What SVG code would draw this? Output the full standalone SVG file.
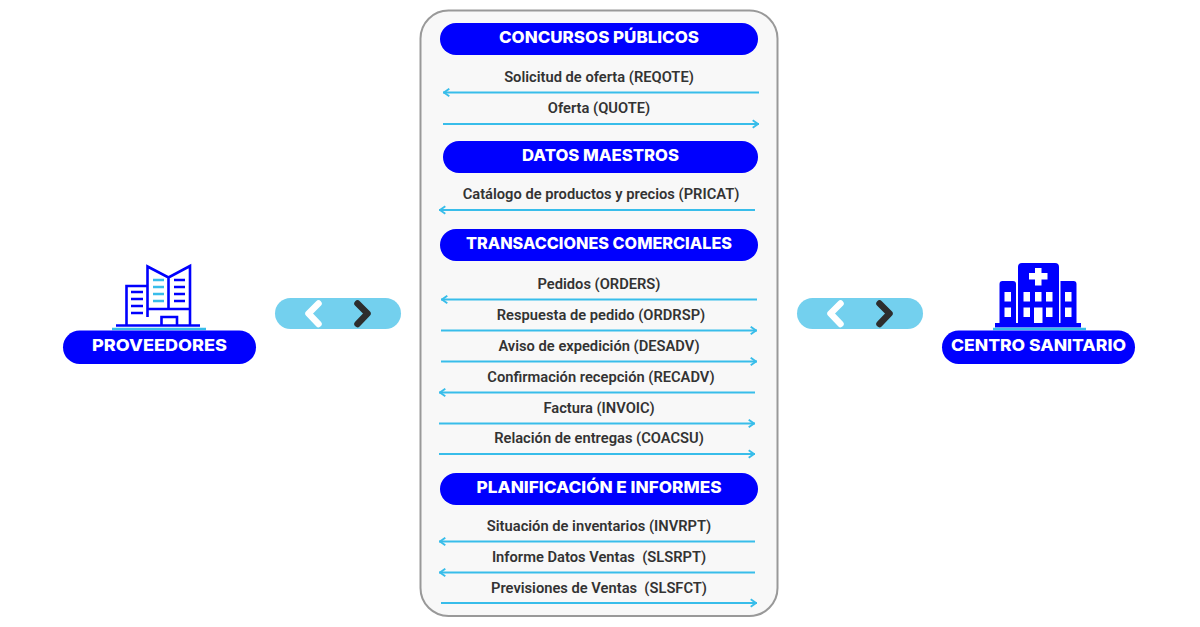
<svg xmlns="http://www.w3.org/2000/svg" width="1200" height="627" viewBox="0 0 1200 627">
<defs>
<marker id="ah" viewBox="0 0 8 10" refX="7.800" refY="5" markerWidth="8" markerHeight="10" markerUnits="userSpaceOnUse" orient="auto"><path d="M1.500 1.200L6.800 5L1.500 8.800" fill="none" stroke="#38bdea" stroke-width="1.800"/></marker>
</defs>
<style>
.hd{fill:#0000fe}
.ht{font-family:"Inter","Liberation Sans",sans-serif;font-weight:800;font-size:16px;fill:#fff;text-anchor:middle}
.lb{font-family:"Roboto","Liberation Sans",sans-serif;font-weight:600;font-size:14.7px;fill:#333;text-anchor:middle}
.ar{stroke:#38bdea;stroke-width:2;fill:none;marker-end:url(#ah)}
.ln{stroke:#0000fe;stroke-width:2.600;fill:none}
.d{stroke:#0000fe;stroke-width:2.400;fill:none}
.c{stroke:#38bdea;stroke-width:2.400;fill:none}
.pl{fill:#73d0ee}
.w{fill:#fff}
.chw{fill:none;stroke:#fff;stroke-width:6.500;stroke-linecap:round;stroke-linejoin:round}
.chd{fill:none;stroke:#2d2d2d;stroke-width:6.500;stroke-linecap:round;stroke-linejoin:round}
</style>
<g id="panel"><rect x="420.500" y="10.500" width="357" height="605.500" rx="28" fill="#f8f8f8" stroke="#999" stroke-width="2"/></g>
<g id="proveedores">
<path class="ln" d="M147.500 286H126.500V325.500M147.500 317V266.500L168.500 277.500L190 266V325.500M168.500 277.500V309M147.500 309H190M161.500 325.500V317H177V325.500"/>
<path class="ln" d="M116 325.500H200"/>
<path class="c" d="M112 329H206"/>
<path class="d" d="M131 292H143M131 299H143M131 306H143M131 313H143M174 280H185M174 287H185M174 294H185M174 301H185"/>
<path class="c" d="M153 280H164M153 287H164M153 294H164M153 301H164"/>
<rect class="hd" x="63" y="330.500" width="193" height="33.500" rx="16.700"/>
<text class="ht" x="159.500" y="351" textLength="135" lengthAdjust="spacingAndGlyphs">PROVEEDORES</text>
</g>
<g id="centro-sanitario">
<path class="hd" d="M1018 325V267a4 4 0 0 1 4-4h33a4 4 0 0 1 4 4V325ZM999.500 325V284a3 3 0 0 1 3-3h10.500a3 3 0 0 1 3 3V325ZM1060.500 325V281h13a3 3 0 0 1 3 3V325Z"/>
<rect class="hd" x="995" y="323" width="86" height="4.500"/>
<path class="c" d="M993 329H1086"/>
<path class="w" d="M1035 268h6.500v5h6v6.500h-6v6h-6.500v-6h-6v-6.500h6Z"/>
<rect class="w" x="1004.500" y="292" width="6.500" height="9.500"/><rect class="w" x="1004.500" y="307.500" width="6.500" height="9.500"/>
<rect class="w" x="1023.500" y="292" width="6.500" height="9.500"/><rect class="w" x="1023.500" y="307.500" width="6.500" height="9.500"/>
<rect class="w" x="1035" y="292" width="6.500" height="9.500"/>
<rect class="w" x="1046" y="292" width="6.500" height="9.500"/><rect class="w" x="1046" y="307.500" width="6.500" height="9.500"/>
<rect class="w" x="1034" y="307.500" width="8.500" height="15.500"/>
<rect class="w" x="1065" y="292" width="6.500" height="9.500"/><rect class="w" x="1065" y="307.500" width="6.500" height="9.500"/>
<rect class="hd" x="942" y="330.500" width="193" height="33.500" rx="16.700"/>
<text class="ht" x="1038.500" y="351" textLength="175" lengthAdjust="spacingAndGlyphs">CENTRO SANITARIO</text>
</g>
<g id="flow-left">
<rect class="pl" x="275" y="298" width="126" height="31" rx="15.500"/>
<path class="chw" d="M318.500 303.500L308.500 313.500L318.500 324"/>
<path class="chd" d="M357.500 303.500L367.500 313.500L357.500 324"/>
</g>
<g id="flow-right">
<rect class="pl" x="797" y="298" width="126" height="31" rx="15.500"/>
<path class="chw" d="M840.500 303.500L830.500 313.500L840.500 324"/>
<path class="chd" d="M879.500 303.500L889.500 313.500L879.500 324"/>
</g>
<g id="concursos"><rect class="hd" x="440" y="23" width="318" height="32" rx="16"/><text class="ht" x="599" y="42.500" textLength="200" lengthAdjust="spacingAndGlyphs">CONCURSOS PÚBLICOS</text></g>
<g id="datos"><rect class="hd" x="443" y="141" width="315" height="32" rx="16"/><text class="ht" x="600.500" y="161" textLength="157" lengthAdjust="spacingAndGlyphs">DATOS MAESTROS</text></g>
<g id="transacciones"><rect class="hd" x="440" y="229" width="318" height="32" rx="16"/><text class="ht" x="599" y="249" textLength="266" lengthAdjust="spacingAndGlyphs">TRANSACCIONES COMERCIALES</text></g>
<g id="planificacion"><rect class="hd" x="440" y="473" width="318" height="32" rx="16"/><text class="ht" x="599" y="493" textLength="245" lengthAdjust="spacingAndGlyphs">PLANIFICACIÓN E INFORMES</text></g>
<g id="connectors">
<path class="ar" d="M759 92.500H443"/>
<path class="ar" d="M443 124H759"/>
<path class="ar" d="M755 210H439"/>
<path class="ar" d="M757 299.500H441"/>
<path class="ar" d="M441 330.500H757"/>
<path class="ar" d="M441 361.500H757"/>
<path class="ar" d="M755 392.500H439"/>
<path class="ar" d="M439 423.500H755"/>
<path class="ar" d="M439 454H755"/>
<path class="ar" d="M755 541.500H439"/>
<path class="ar" d="M755 572.500H439"/>
<path class="ar" d="M441 603H757"/>
</g>
<g id="labels">
<text class="lb" x="599" y="82">Solicitud de oferta (REQOTE)</text>
<text class="lb" x="599" y="113">Oferta (QUOTE)</text>
<text class="lb" x="601" y="199">Catálogo de productos y precios (PRICAT)</text>
<text class="lb" x="599" y="289">Pedidos (ORDERS)</text>
<text class="lb" x="601" y="320">Respuesta de pedido (ORDRSP)</text>
<text class="lb" x="599" y="351">Aviso de expedición (DESADV)</text>
<text class="lb" x="601" y="382">Confirmación recepción (RECADV)</text>
<text class="lb" x="599" y="413">Factura (INVOIC)</text>
<text class="lb" x="599" y="443">Relación de entregas (COACSU)</text>
<text class="lb" x="599" y="531">Situación de inventarios (INVRPT)</text>
<text class="lb" x="599" y="562" xml:space="preserve">Informe Datos Ventas  (SLSRPT)</text>
<text class="lb" x="599" y="593" xml:space="preserve">Previsiones de Ventas  (SLSFCT)</text>
</g>
</svg>
